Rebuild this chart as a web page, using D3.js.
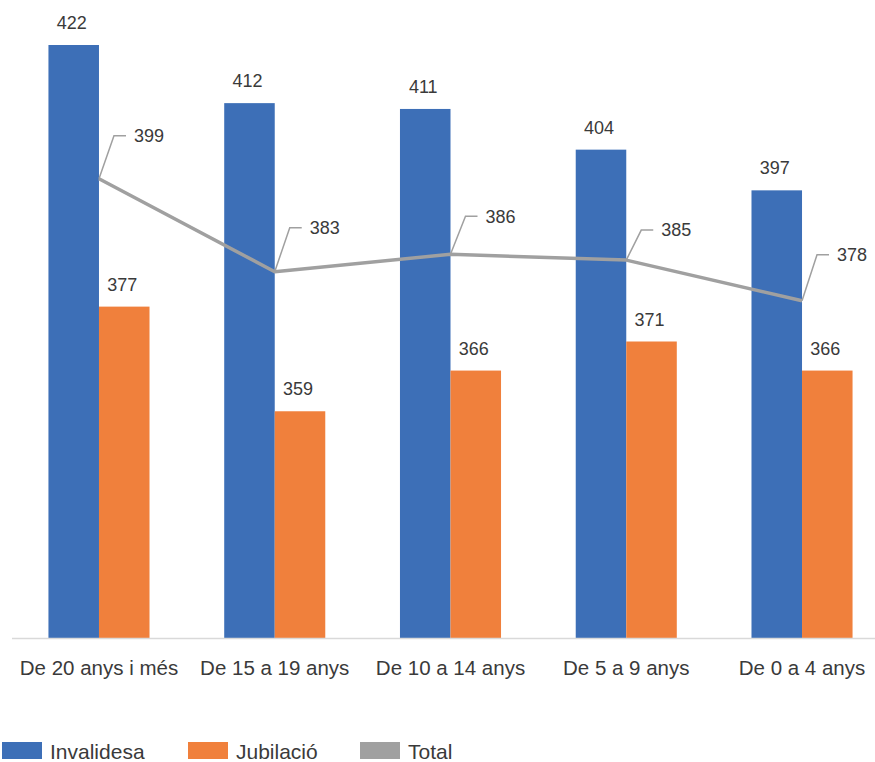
<!DOCTYPE html>
<html>
<head>
<meta charset="utf-8">
<script src="https://cdn.jsdelivr.net/npm/d3@7"></script>
<style>
  html, body { margin: 0; padding: 0; background: #fff; }
  svg { display: block; }
  text { font-family: "Liberation Sans", Arial, Helvetica, sans-serif; fill: #3a3a3a; }
</style>
</head>
<body>
<svg id="chart" width="875" height="762"></svg>
<script>
const categories = ["De 20 anys i més", "De 15 a 19 anys", "De 10 a 14 anys", "De 5 a 9 anys", "De 0 a 4 anys"];
const invalidesa = [422, 412, 411, 404, 397];
const jubilacio = [377, 359, 366, 371, 366];
const total = [399, 383, 386, 385, 378];
const seriesNames = ["Invalidesa", "Jubilació", "Total"];

// layout (label leader offsets for the Total line, in px)
const totalLabelRise = [43, 44, 38, 30, 46];

const colors = { "Invalidesa": "#3D6FB7", "Jubilació": "#F0803C", "Total": "#A0A0A0" };

const svg = d3.select("#chart");
const W = 875;

const x = d3.scaleBand().domain(categories).range([11.1, 889.9]).paddingInner(0.425).paddingOuter(0.2125);
const x1 = d3.scaleBand().domain(["Invalidesa", "Jubilació"]).range([0, x.bandwidth()]).padding(0);
const y = d3.scaleLinear().domain([320, 422]).range([638, 45]);

const barData = [];
categories.forEach((c, i) => {
  barData.push({ cat: c, s: "Invalidesa", v: invalidesa[i] });
  barData.push({ cat: c, s: "Jubilació", v: jubilacio[i] });
});

svg.append("g").selectAll("rect").data(barData).join("rect")
  .attr("x", d => x(d.cat) + x1(d.s))
  .attr("y", d => y(d.v))
  .attr("width", x1.bandwidth())
  .attr("height", d => y.range()[0] - y(d.v))
  .attr("fill", d => colors[d.s]);

// baseline
svg.append("line")
  .attr("x1", 12).attr("x2", W)
  .attr("y1", y.range()[0] + 0.5).attr("y2", y.range()[0] + 0.5)
  .attr("stroke", "#D9D9D9").attr("stroke-width", 1.5);

// bar value labels
svg.append("g").selectAll("text").data(barData).join("text")
  .attr("x", d => x(d.cat) + x1(d.s) + x1.bandwidth() / 2 - 2)
  .attr("y", d => y(d.v) - 16)
  .attr("text-anchor", "middle")
  .attr("font-size", 18)
  .text(d => d.v);

// total line
const cx = c => x(c) + x.bandwidth() / 2;
const line = d3.line().x((d, i) => cx(categories[i])).y(d => y(d));
svg.append("path").datum(total)
  .attr("d", line)
  .attr("fill", "none")
  .attr("stroke", colors["Total"])
  .attr("stroke-width", 3.5)
  .attr("stroke-linejoin", "round");

// leader lines + labels
const lg = svg.append("g");
total.forEach((v, i) => {
  const px = cx(categories[i]);
  const py = y(v);
  const ly = py - totalLabelRise[i];
  const kx = px + 15;
  lg.append("path")
    .attr("d", `M${px},${py} L${kx},${ly} L${kx + 12},${ly}`)
    .attr("fill", "none")
    .attr("stroke", colors["Total"])
    .attr("stroke-width", 1.5);
  lg.append("text")
    .attr("x", kx + 20)
    .attr("y", ly)
    .attr("dy", "0.35em")
    .attr("font-size", 18)
    .text(v);
});

// category axis labels
svg.append("g").selectAll("text").data(categories).join("text")
  .attr("x", d => cx(d))
  .attr("y", 675)
  .attr("text-anchor", "middle")
  .attr("font-size", 20.5)
  .text(d => d);

// legend
const legendX = [2, 188, 360];
const lgd = svg.append("g");
seriesNames.forEach((s, i) => {
  lgd.append("rect")
    .attr("x", legendX[i]).attr("y", 742)
    .attr("width", 40).attr("height", 17)
    .attr("fill", colors[s]);
  lgd.append("text")
    .attr("x", legendX[i] + 48).attr("y", 759)
    .attr("font-size", 21)
    .text(s);
});
</script>
</body>
</html>
